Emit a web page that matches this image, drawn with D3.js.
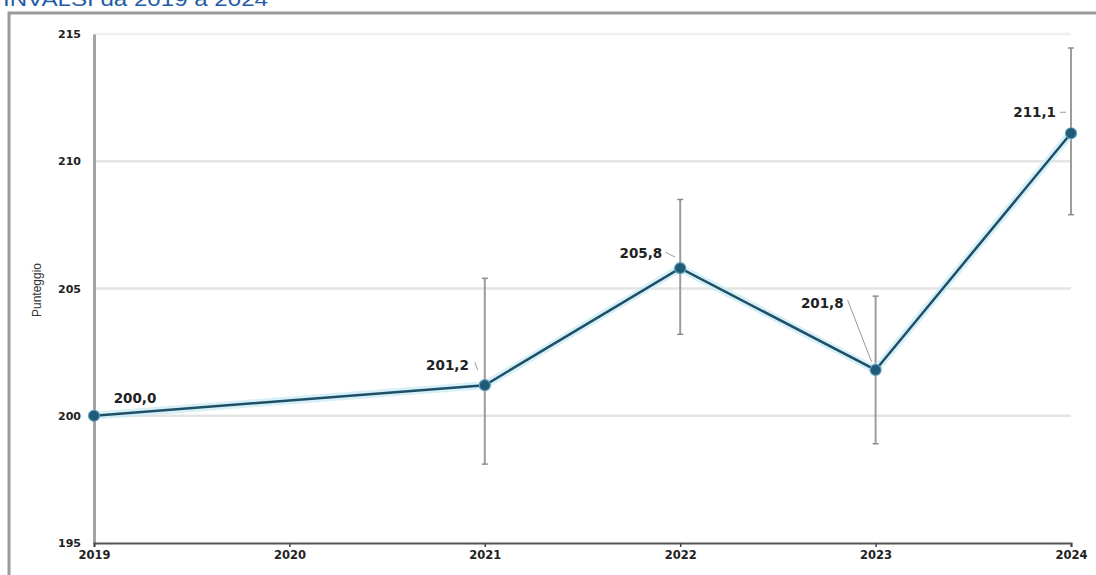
<!DOCTYPE html>
<html>
<head>
<meta charset="utf-8">
<script src="https://cdn.jsdelivr.net/npm/d3@7/dist/d3.min.js"></script>
<style>
  html, body { margin: 0; padding: 0; background: #fff; }
  svg { display: block; font-family: "Liberation Sans", Arial, sans-serif; }
</style>
</head>
<body>
<svg id="chart" width="1096" height="575"></svg>
<script>
// ---- data ----
const titleText = "INVALSI da 2019 a 2024";
const yAxisTitle = "Punteggio";
const years = [2019, 2020, 2021, 2022, 2023, 2024];
const pointYears = [2019, 2021, 2022, 2023, 2024];
const scores = [200.0, 201.2, 205.8, 201.8, 211.1];
const errLow = [null, 198.1, 203.2, 198.9, 207.9];
const errHigh = [null, 205.4, 208.5, 204.7, 214.45];
const valueLabels = ["200,0", "201,2", "205,8", "201,8", "211,1"];
const yTicks = [195, 200, 205, 210, 215];

// ---- label layout (pixel offsets from the point) ----
const labelLayout = [
  { dx: 41, dy: -17, anchor: "middle", leader: null },
  { dx: -16, dy: -20, anchor: "end", leader: [[-10, -23], [-7, -15]] },
  { dx: -18, dy: -15, anchor: "end", leader: [[-15, -16], [-5, -11]] },
  { dx: -32, dy: -67, anchor: "end", leader: [[-28, -70], [-4, -8]] },
  { dx: -15, dy: -21, anchor: "end", leader: [[-11, -21], [-5, -21]] }
];

const svg = d3.select("#chart");
const boldFont = "DejaVu Sans, Verdana, sans-serif";

// frame
svg.append("rect")
  .attr("x", 9).attr("y", 13).attr("width", 1200).attr("height", 700)
  .attr("fill", "#fff").attr("stroke", "#9a9a9a").attr("stroke-width", 3);

// title (cropped at top, as in the source)
svg.append("text")
  .attr("x", 3).attr("y", 6)
  .attr("textLength", 265).attr("lengthAdjust", "spacingAndGlyphs")
  .attr("fill", "#1f5ca8").attr("font-size", 21)
  .text(titleText);

const x = d3.scaleLinear().domain([2019, 2024]).range([94, 1071]);
const y = d3.scaleLinear().domain([195, 215]).range([543, 34]);

// gridlines
svg.append("g").selectAll("line")
  .data(yTicks.filter(t => t > 195))
  .join("line")
  .attr("x1", x(2019)).attr("x2", x(2024))
  .attr("y1", d => y(d)).attr("y2", d => y(d))
  .attr("stroke", d => d === 215 ? "#efefef" : "#e4e4e4")
  .attr("stroke-width", 2.5);

// y axis
const yAxis = svg.append("g")
  .attr("transform", `translate(${x(2019)},0)`)
  .call(d3.axisLeft(y).tickValues(yTicks).tickSize(0).tickPadding(13).tickFormat(d3.format("d")));
yAxis.select(".domain").attr("stroke", "#a3a3a3").attr("stroke-width", 3);
yAxis.selectAll("text")
  .attr("font-size", 11).attr("font-weight", "bold").attr("fill", "#222")
  .attr("font-family", boldFont);

// x axis
const xAxis = svg.append("g")
  .attr("transform", `translate(0,${y(195)})`)
  .call(d3.axisBottom(x).tickValues(years).tickSize(4).tickPadding(4).tickFormat(d3.format("d")));
xAxis.select(".domain").attr("stroke", "#555").attr("stroke-width", 2);
xAxis.selectAll(".tick line").attr("stroke", "#444").attr("stroke-width", 1.5);
xAxis.selectAll("text")
  .attr("font-size", 11.5).attr("font-weight", "bold").attr("fill", "#222")
  .attr("font-family", boldFont);

// y axis title
svg.append("text")
  .attr("transform", `translate(41,290) rotate(-90)`)
  .attr("text-anchor", "middle")
  .attr("font-size", 12).attr("fill", "#333")
  .text(yAxisTitle);

const pts = pointYears.map((yr, i) => ({
  yr, v: scores[i], lo: errLow[i], hi: errHigh[i], lab: valueLabels[i], lay: labelLayout[i]
}));

// error bars
const eb = svg.append("g").selectAll("g").data(pts.filter(d => d.lo !== null)).join("g");
eb.append("line")
  .attr("x1", d => x(d.yr)).attr("x2", d => x(d.yr))
  .attr("y1", d => y(d.hi)).attr("y2", d => y(d.lo))
  .attr("stroke", "#9c9c9c").attr("stroke-width", 2);
["hi", "lo"].forEach(k => {
  eb.append("line")
    .attr("x1", d => x(d.yr) - 3).attr("x2", d => x(d.yr) + 3)
    .attr("y1", d => y(d[k])).attr("y2", d => y(d[k]))
    .attr("stroke", "#8c8c8c").attr("stroke-width", 1.5);
});

// line with glow
const line = d3.line().x(d => x(d.yr)).y(d => y(d.v));
svg.append("path").datum(pts).attr("d", line)
  .attr("fill", "none").attr("stroke", "#c9ebf5").attr("stroke-width", 8).attr("opacity", 0.75);
svg.append("path").datum(pts).attr("d", line)
  .attr("fill", "none").attr("stroke", "#1e4f66").attr("stroke-width", 2.5);

// markers
svg.append("g").selectAll("circle").data(pts).join("circle")
  .attr("cx", d => x(d.yr)).attr("cy", d => y(d.v)).attr("r", 5.5)
  .attr("fill", "#1f5a78").attr("stroke", "#5d9cb8").attr("stroke-width", 1.2);

// leader lines
svg.append("g").selectAll("line").data(pts.filter(d => d.lay.leader)).join("line")
  .attr("x1", d => x(d.yr) + d.lay.leader[0][0]).attr("y1", d => y(d.v) + d.lay.leader[0][1])
  .attr("x2", d => x(d.yr) + d.lay.leader[1][0]).attr("y2", d => y(d.v) + d.lay.leader[1][1])
  .attr("stroke", "#9a9a9a").attr("stroke-width", 1);

// value labels
svg.append("g").selectAll("text").data(pts).join("text")
  .attr("x", d => x(d.yr) + d.lay.dx).attr("y", d => y(d.v) + d.lay.dy)
  .attr("dy", "0.35em").attr("text-anchor", d => d.lay.anchor)
  .attr("font-size", 13.5).attr("font-weight", "bold").attr("fill", "#222")
  .attr("font-family", boldFont)
  .text(d => d.lab);
</script>
</body>
</html>
